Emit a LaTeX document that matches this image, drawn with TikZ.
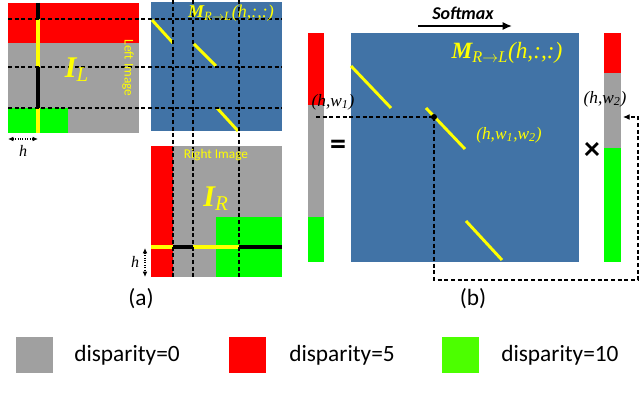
\documentclass[tikz,border=0pt]{standalone}
\usepackage{fontspec}
\setmainfont{Carlito}
\newfontfamily\timesfont{Liberation Serif}
\usepackage{xcolor}
\usetikzlibrary{arrows.meta}

\definecolor{imgred}{RGB}{255,0,0}
\definecolor{imggray}{RGB}{160,160,160}
\definecolor{imggreen}{RGB}{0,255,0}
\definecolor{keygreen}{RGB}{76,255,0}
\definecolor{matblue}{RGB}{65,115,166}
\definecolor{hiyellow}{RGB}{255,255,0}
\newcommand{\setfs}[1]{\fontsize{#1}{#1}\selectfont}

\begin{document}
\begin{tikzpicture}[x=0.75pt,y=0.75pt,yscale=-1,xscale=1,
  dashln/.style={densely dashed,line width=0.9pt},
  hibar/.style={hiyellow,line width=3pt},
  lowbar/.style={black,line width=3pt},
  diagseg/.style={hiyellow,line width=2.2pt},
  lbl/.style={inner sep=0.75pt,font=\timesfont\itshape\setfs{#1}},
  cap/.style={inner sep=0.75pt,font=\setfs{#1}}
]
\useasboundingbox (0,0) rectangle (640,406);

%Shape: Rectangle [left image]
\fill[imggray] (8,3) rectangle (139,133);
\fill[imgred] (8,3) rectangle (139,43);
\fill[imggreen] (8,108) rectangle (68,133);
%Straight Lines [column of left image]
\draw[lowbar] (38,3) -- (38,19);
\draw[hibar] (38,19) -- (38,67);
\draw[lowbar] (38,67) -- (38,108);
\draw[hibar] (38,108) -- (38,133);

%Shape: Rectangle [attention map, small]
\fill[matblue] (151,2) rectangle (282,131);
\draw[diagseg] (152,20) -- (173,43);
\draw[diagseg] (194,44) -- (216,66);
\draw[diagseg] (217,108) -- (238,131);

%Shape: Rectangle [right image]
\fill[imggray] (151,146) rectangle (282,277);
\fill[imgred] (151,146) rectangle (173,277);
\fill[imggreen] (216,217) rectangle (282,277);
%Straight Lines [row of right image]
\draw[hibar] (151,247) -- (173,247);
\draw[lowbar] (173,247) -- (193,247);
\draw[hibar] (193,247) -- (239,247);
\draw[lowbar] (239,247) -- (282,247);

%Straight Lines [dashed guides]
\foreach \yy in {19,67,108}
  \draw[dashln] (8,\yy) -- (282,\yy);
\foreach \xx in {173,193,239}
  \draw[dashln] (\xx,0) -- (\xx,277);

%Straight Lines [h arrows]
\coordinate (hla) at (8,139);
\coordinate (hlb) at (38,139);
\draw[densely dotted,line width=0.8pt,{Latex[length=4pt,width=3.5pt]}-{Latex[length=4pt,width=3.5pt]}] (hla) -- (hlb);
\coordinate (hra) at (145,248);
\coordinate (hrb) at (145,277);
\draw[densely dotted,line width=0.8pt,{Latex[length=4pt,width=3.5pt]}-{Latex[length=4pt,width=3.5pt]}] (hra) -- (hrb);

% Text Node
\node[cap=10,text=hiyellow,rotate=-90] (leftimg) at (128,68) {Left Image};
\node[cap=10,text=hiyellow] (rightimg) at (216,155) {Right Image};
\node[lbl=22.5,text=hiyellow] (il) at (77,70) {\textbf{I}\textsubscript{L}};
\node[lbl=22.5,text=hiyellow] (ir) at (216,199) {\textbf{I}\textsubscript{R}};
\node[lbl=13.5,text=hiyellow] (mtitlea) at (231,13) {\textbf{M}\textsubscript{R$\rightarrow$L}(h,:,:)};
\node[lbl=12] (hl) at (23,151) {h};
\node[lbl=12] (hr) at (135,262) {h};
\node[cap=17.5] (capa) at (141,299) {(a)};

%Shape: Rectangle [left bar]
\fill[imgred] (308,33) rectangle (324,105);
\fill[imggray] (308,105) rectangle (324,217);
\fill[imggreen] (308,217) rectangle (324,262);

%Shape: Rectangle [attention map, large]
\fill[matblue] (351,33) rectangle (579,262);
\draw[diagseg] (351,66) -- (391,108);
\draw[diagseg] (426,108) -- (465,149);
\draw[diagseg] (466,221) -- (502,260);

%Shape: Rectangle [right bar]
\fill[imgred] (604,33) rectangle (621,73);
\fill[imggray] (604,73) rectangle (621,148);
\fill[imggreen] (604,148) rectangle (621,262);

%Straight Lines [softmax arrow]
\coordinate (sma) at (418,26);
\coordinate (smb) at (512,26);
\draw[line width=1.2pt,-{Latex[length=7pt,width=6pt]}] (sma) -- (smb);

%Straight Lines [dashed lookup]
\coordinate (pk) at (434,117);
\coordinate (wa) at (316,117);
\coordinate (lowrt) at (638,280);
\coordinate (w2in) at (623,117);
\draw[dashln] (wa) -- (pk);
\draw[dashln,-{Latex[length=5pt,width=4.5pt]}] (pk) -- (pk |- lowrt) -- (lowrt) -- (lowrt |- w2in) -- (w2in);
\fill (pk) circle (3);

% Text Node
\node[cap=13.5,font=\setfs{13.5}\bfseries\itshape] (smx) at (463,13) {Softmax};
\node[lbl=17.5,text=hiyellow] (mtitleb) at (507,53) {\textbf{M}\textsubscript{R$\rightarrow$L}(h,:,:)};
\node[lbl=13] (hwa) at (333,102) {(h,w\textsubscript{1})};
\node[lbl=13,text=hiyellow] (hwab) at (509,135) {(h,w\textsubscript{1},w\textsubscript{2})};
\node[lbl=13] (hwb) at (605,99) {(h,w\textsubscript{2})};
\node[cap=24,font=\setfs{24}\bfseries] (eq) at (338,147) {=};
\node[cap=24,font=\setfs{24}\bfseries] (tms) at (592,151) {×};
\node[cap=17.5] (capb) at (473,299) {(b)};

%Shape: Rectangle [legend]
\fill[imggray] (16,337) rectangle (53,373);
\node[cap=17.5,anchor=west] (key0) at (73,355) {disparity=0};
\fill[imgred] (229,337) rectangle (266,373);
\node[cap=17.5,anchor=west] (key5) at (288,355) {disparity=5};
\fill[keygreen] (442,337) rectangle (479,373);
\node[cap=17.5,anchor=west] (key10) at (500,355) {disparity=10};
\end{tikzpicture}
\end{document}
